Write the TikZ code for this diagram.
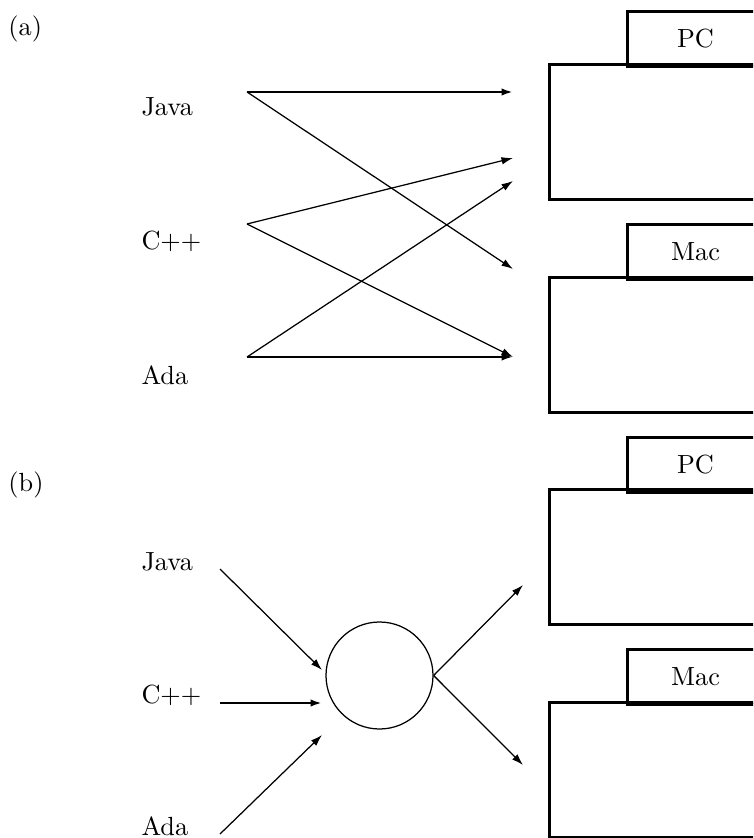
\documentclass[tikz,border=0pt]{standalone}
\usetikzlibrary{arrows.meta}
\begin{document}
\begin{tikzpicture}[x=0.4pt,y=-0.4pt,
  every node/.style={font=\fontsize{10.5pt}{12.5pt}\selectfont},
  lbl/.style={anchor=base west, inner sep=0pt},
  arr/.style={-{Latex[length=4.6pt,width=3pt]}, line width=0.5pt},
  harr/.style={arr, line width=0.9pt},
  boxm/.style={draw, line width=1.2pt, anchor=north west, minimum width=86.8pt, minimum height=54pt, inner sep=0pt},
  tabb/.style={draw, line width=1.2pt, anchor=north west, minimum width=54.4pt, minimum height=22pt, inner sep=0pt},
  hubs/.style={draw, circle, line width=0.5pt, minimum size=42.8pt, inner sep=0pt}]
\clip (0,0) rectangle (753,838);

% ---------- (a) ----------
\node[lbl] (la) at (8,36) {(a)};
\node[lbl] (javaA) at (141,116) {Java};
\node[lbl] (cppA) at (141,250) {C++};
\node[lbl] (adaA) at (141,384) {Ada};

\node[boxm] (pcA) at (548,63) {};
\node[tabb] (pcAtab) at (626,10) {PC};
\node[boxm] (macA) at (548,276) {};
\node[tabb] (macAtab) at (626,223) {Mac};

\coordinate (jA) at (247,92);
\coordinate (cA) at (247,224);
\coordinate (aA) at (247,357);
\coordinate (pcA1) at (513,92);
\coordinate (pcA2) at (513,158);
\coordinate (pcA3) at (513,181);
\coordinate (macA1) at (513,269);
\coordinate (macA2) at (513,357);

\draw[harr] (jA) -- (pcA1);
\draw[arr] (jA) -- (macA1);
\draw[arr] (cA) -- (pcA2);
\draw[arr] (cA) -- (macA2);
\draw[arr] (aA) -- (pcA3);
\draw[harr] (aA) -- (macA2);

% ---------- (b) ----------
\node[lbl] (lb) at (8,491) {(b)};
\node[lbl] (javaB) at (141,570) {Java};
\node[lbl] (cppB) at (141,703) {C++};
\node[lbl] (adaB) at (141,835) {Ada};

\node[boxm] (pcB) at (548,488) {};
\node[tabb] (pcBtab) at (626,436) {PC};
\node[boxm] (macB) at (548,701) {};
\node[tabb] (macBtab) at (626,648) {Mac};

\node[hubs] (hub) at (379.5,675.5) {};

\coordinate (jB) at (220,569);
\coordinate (cB) at (220,703);
\coordinate (aB) at (220,834);
\coordinate (hin1) at (322,670);
\coordinate (hin2) at (322,703);
\coordinate (hin3) at (322,735);
\coordinate (pcBin) at (523,585);
\coordinate (macBin) at (523,765);

\draw[arr] (jB) -- (hin1);
\draw[harr] (cB) -- (hin2);
\draw[arr] (aB) -- (hin3);
\draw[arr] (hub.east) -- (pcBin);
\draw[arr] (hub.east) -- (macBin);
\end{tikzpicture}
\end{document}
